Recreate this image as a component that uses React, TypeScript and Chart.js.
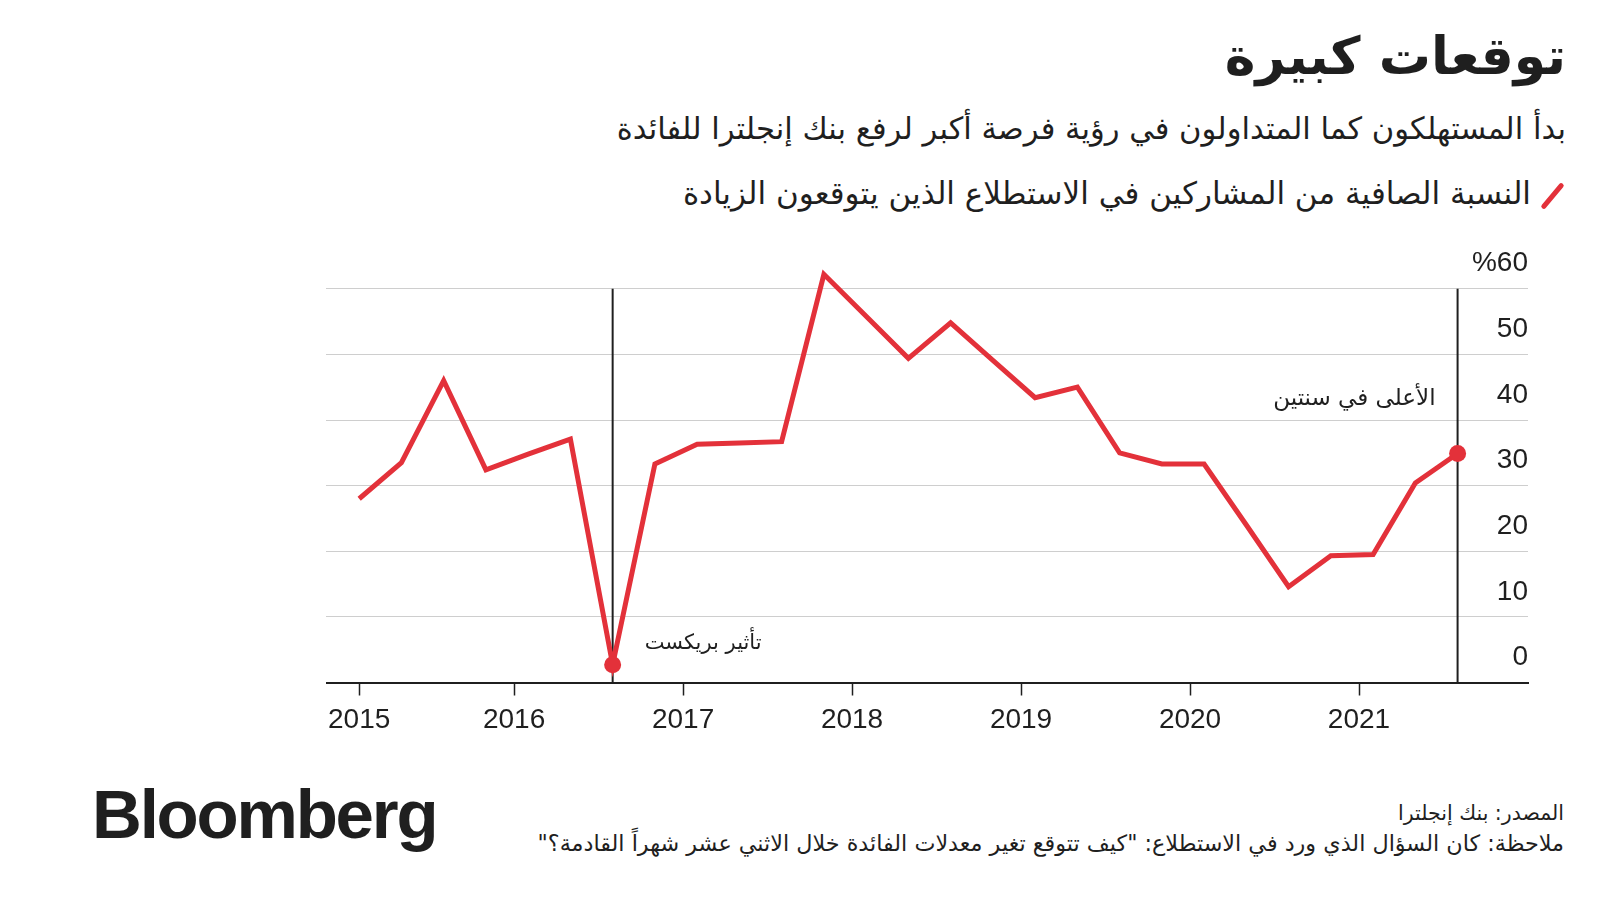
import React, { useEffect, useRef } from "react";
import { Chart, registerables } from "chart.js";

Chart.register(...registerables);

// ---------- text ----------
const titleText = "توقعات كبيرة";
const subtitleText = "بدأ المستهلكون كما المتداولون في رؤية فرصة أكبر لرفع بنك إنجلترا للفائدة";
const seriesLabel = "النسبة الصافية من المشاركين في الاستطلاع الذين يتوقعون الزيادة";
const sourceText = "المصدر: بنك إنجلترا";
const noteText = 'ملاحظة: كان السؤال الذي ورد في الاستطلاع: "كيف تتوقع تغير معدلات الفائدة خلال الاثني عشر شهراً القادمة؟"';

// ---------- data (quarterly survey: Feb, May, Aug, Nov) ----------
const surveyDates = [
  "2015-02", "2015-05", "2015-08", "2015-11",
  "2016-02", "2016-05", "2016-08", "2016-11",
  "2017-02", "2017-05", "2017-08", "2017-11",
  "2018-02", "2018-05", "2018-08", "2018-11",
  "2019-02", "2019-05", "2019-08", "2019-11",
  "2020-02", "2020-05", "2020-08", "2020-11",
  "2021-02", "2021-05", "2021-08",
];
const netBalance = [
  28.0, 33.5, 46.0, 32.4,
  34.8, 37.1, 2.7, 33.3,
  36.3, 36.5, 36.7, 62.2,
  55.8, 49.4, 54.8, 49.1,
  43.4, 45.0, 35.0, 33.3,
  33.3, 24.0, 14.6, 19.3,
  19.5, 30.4, 34.9,
];
const highlightDates = ["2016-08", "2021-08"];
const markerTopValue = 60;

const xTickDates = ["2015-02", "2016-01", "2017-01", "2018-01", "2019-01", "2020-01", "2021-01"];
const xTickLabels = ["2015", "2016", "2017", "2018", "2019", "2020", "2021"];
const yTickValues = [0, 10, 20, 30, 40, 50, 60];
const yTickLabels = ["0", "10", "20", "30", "40", "50", "%60"];

const annotationTexts = ["تأثير بريكست", "الأعلى في سنتين"];
const annotationDates = ["2016-08", "2021-08"];
const annotationValues = [6.0, 43.2];

// ---------- helpers ----------
const toYear = (d: string) => {
  const [y, m] = d.split("-").map(Number);
  return y + (m - 1) / 12;
};

const RED = "#e3313a";
const INK = "#1f1f1f";
const AR_FONT = "'DejaVu Sans', sans-serif";
const NUM_FONT = "'Liberation Sans', Arial, sans-serif";

const annotationPlugin = {
  id: "textAnnotations",
  afterDatasetsDraw(chart: any) {
    const { ctx, scales } = chart;
    const x = scales.x;
    const y = scales.y;
    const offsets = [32, -22];
    const aligns = ["left", "right"];
    const sizes = [21, 23];
    ctx.save();
    ctx.fillStyle = INK;
    ctx.textBaseline = "middle";
    annotationTexts.forEach((t, i) => {
      ctx.font = `${sizes[i]}px ${AR_FONT}`;
      ctx.textAlign = aligns[i];
      ctx.fillText(t, x.getPixelForValue(toYear(annotationDates[i])) + offsets[i], y.getPixelForValue(annotationValues[i]));
    });
    ctx.restore();
  },
};

function LineChart() {
  const ref = useRef<HTMLCanvasElement | null>(null);
  useEffect(() => {
    if (!ref.current) return;
    const highlightIdx = highlightDates.map((d) => surveyDates.indexOf(d));
    const markerSets = highlightDates.map((d) => ({
      type: "line" as const,
      data: [
        { x: toYear(d), y: 0 },
        { x: toYear(d), y: markerTopValue },
      ],
      borderColor: INK,
      borderWidth: 2,
      pointRadius: 0,
    }));
    const chart = new Chart(ref.current, {
      type: "line",
      data: {
        datasets: [
          {
            data: surveyDates.map((d, i) => ({ x: toYear(d), y: netBalance[i] })),
            borderColor: RED,
            borderWidth: 5,
            borderJoinStyle: "miter",
            tension: 0,
            pointRadius: (c: any) => (highlightIdx.includes(c.dataIndex) ? 8.5 : 0),
            pointBackgroundColor: RED,
            pointBorderWidth: 0,
            clip: false,
          } as any,
          ...markerSets,
        ],
      },
      options: {
        animation: false,
        responsive: false,
        maintainAspectRatio: false,
        layout: { padding: { left: 326.5, right: 72, top: 32.5, bottom: 17.5 } },
        plugins: { legend: { display: false }, tooltip: { enabled: false } },
        scales: {
          x: {
            type: "linear",
            min: 2014.89,
            max: 2022.0,
            afterBuildTicks: (s: any) => {
              s.ticks = xTickDates.map((d) => ({ value: toYear(d) }));
            },
            afterFit: (s: any) => {
              s.height = 50;
            },
            ticks: {
              autoSkip: false,
              maxRotation: 0,
              padding: 8,
              color: INK,
              font: { family: NUM_FONT, size: 28 },
              callback: (_v: any, i: number) => xTickLabels[i],
            },
            grid: {
              drawOnChartArea: false,
              drawTicks: true,
              tickLength: 13,
              tickColor: INK,
              tickWidth: 1.5,
            },
            border: { display: true, color: INK, width: 2 },
          },
          y: {
            type: "linear",
            position: "right",
            min: 0,
            max: 64,
            afterBuildTicks: (s: any) => {
              s.ticks = yTickValues.map((v) => ({ value: v }));
            },
            afterFit: (s: any) => {
              s.width = 0;
            },
            ticks: {
              mirror: true,
              padding: 0,
              labelOffset: -25,
              color: INK,
              font: { family: NUM_FONT, size: 28 },
              callback: (_v: any, i: number) => yTickLabels[i],
            },
            grid: {
              drawTicks: false,
              color: (c: any) => (c.tick && c.tick.value === 0 ? "rgba(0,0,0,0)" : "#9c9c9c"),
              lineWidth: 1,
            },
            border: { display: false, dash: [1, 1] },
          },
        },
      },
      plugins: [annotationPlugin],
    });
    return () => chart.destroy();
  }, []);
  return (
    <canvas
      ref={ref}
      width={1600}
      height={520}
      style={{ position: "absolute", left: 0, top: 230, width: 1600, height: 520 }}
    />
  );
}

export default function App() {
  return (
    <div style={{ position: "absolute", left: 0, top: 0, width: 1600, height: 900, background: "#fff", overflow: "hidden", color: INK }}>
      <div dir="rtl" style={{ position: "absolute", right: 34, top: 19, fontFamily: AR_FONT, fontWeight: "bold", fontSize: 52, lineHeight: "74px", whiteSpace: "nowrap" }}>
        {titleText}
      </div>
      <div dir="rtl" style={{ position: "absolute", right: 34, top: 107, fontFamily: AR_FONT, fontSize: 30.6, lineHeight: "44px", whiteSpace: "nowrap" }}>
        {subtitleText}
      </div>
      <div style={{ position: "absolute", left: 1550, top: 180, width: 5, height: 32, background: RED, borderRadius: 3, transform: "rotate(40deg)" }} />
      <div dir="rtl" style={{ position: "absolute", right: 69, top: 171, fontFamily: AR_FONT, fontSize: 31, lineHeight: "44px", whiteSpace: "nowrap" }}>
        {seriesLabel}
      </div>
      <LineChart />
      <div style={{ position: "absolute", left: 92, top: 775, fontFamily: NUM_FONT, fontWeight: "bold", fontSize: 69, letterSpacing: "-2.2px", lineHeight: "80px", whiteSpace: "nowrap" }}>
        Bloomberg
      </div>
      <div dir="rtl" style={{ position: "absolute", right: 36, top: 798, fontFamily: AR_FONT, fontSize: 20.5, lineHeight: "30px", whiteSpace: "nowrap" }}>
        {sourceText}
      </div>
      <div dir="rtl" style={{ position: "absolute", right: 36, top: 828, fontFamily: AR_FONT, fontSize: 22.3, lineHeight: "30px", whiteSpace: "nowrap" }}>
        {noteText}
      </div>
    </div>
  );
}
